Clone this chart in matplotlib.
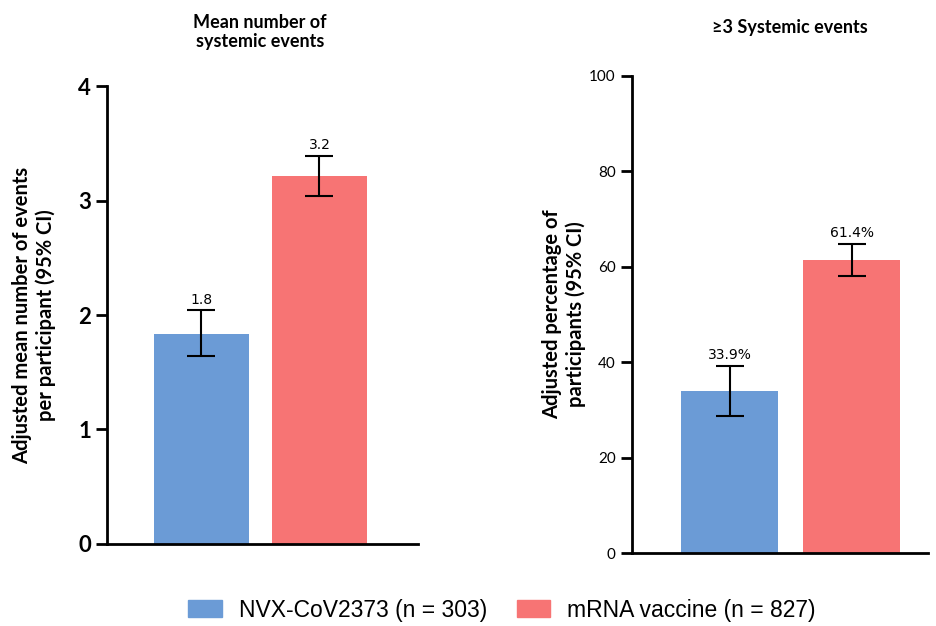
import matplotlib
matplotlib.use("Agg")
import matplotlib.pyplot as plt
from matplotlib.patches import Patch

groups = ["NVX-CoV2373 (n = 303)", "mRNA vaccine (n = 827)"]
colors = ["#6b9bd6", "#f77474"]

mean_events = [1.83, 3.21]
mean_lo = [1.64, 3.04]
mean_hi = [2.04, 3.39]
mean_labels = ["1.8", "3.2"]

pct_events = [33.9, 61.4]
pct_lo = [28.7, 58.1]
pct_hi = [39.2, 64.8]
pct_labels = ["33.9%", "61.4%"]

plt.rcParams['font.family'] = ['Lato', 'DejaVu Sans']

fig = plt.figure(figsize=(9.36, 6.26), dpi=100)
ax1 = fig.add_axes([0.1143, 0.131, 0.3323, 0.7316])
ax2 = fig.add_axes([0.675, 0.1166, 0.316, 0.762])


def draw(ax, vals, lo, hi, labels, xlim, ylim, ticks, tick_fs, tick_bold, pad):
    x = [0, 1]
    yerr = [[v - l for v, l in zip(vals, lo)], [h - v for v, h in zip(vals, hi)]]
    ax.bar(x, vals, width=0.8, color=colors, zorder=1)
    ax.errorbar(x, vals, yerr=yerr, fmt="none", ecolor="black", elinewidth=1.5,
                capsize=10, capthick=1.5, zorder=2)
    for xi, h, lab in zip(x, hi, labels):
        ax.text(xi, h + pad, lab, ha="center", va="bottom", fontsize=10,
                family=["DejaVu Sans"])
    ax.set_xlim(*xlim)
    ax.set_ylim(*ylim)
    ax.set_yticks(ticks)
    ax.set_xticks([])
    for s in ["top", "right"]:
        ax.spines[s].set_visible(False)
    for s in ["left", "bottom"]:
        ax.spines[s].set_linewidth(2)
    ax.tick_params(axis="y", length=8, width=2, labelsize=tick_fs)
    if tick_bold:
        for t in ax.get_yticklabels():
            t.set_fontweight("bold")


draw(ax1, mean_events, mean_lo, mean_hi, mean_labels, (-0.80, 1.835), (0, 4),
     [0, 1, 2, 3, 4], 16, True, 0.03)
draw(ax2, pct_events, pct_lo, pct_hi, pct_labels, (-0.803, 1.623), (0, 100),
     [0, 20, 40, 60, 80, 100], 11, False, 0.8)

ax1.set_ylabel("Adjusted mean number of events\nper participant (95% CI)",
               fontsize=14.5, fontweight="bold", labelpad=16)
ax2.set_ylabel("Adjusted percentage of\nparticipants (95% CI)",
               fontsize=14.5, fontweight="bold", labelpad=2)

fig.text(260 / 936, 1 - 32 / 626, "Mean number of\nsystemic events", ha="center",
         va="center", fontsize=13, fontweight="bold")
fig.text(790 / 936, 1 - 28 / 626, "≥3 Systemic events", ha="center",
         va="center", fontsize=13, fontweight="bold")

handles = [Patch(color=c, label=g) for c, g in zip(colors, groups)]
fig.legend(handles=handles, loc="center", bbox_to_anchor=(502 / 936, 1 - 610 / 626),
           ncol=2, frameon=False, handlelength=1.45, handleheight=0.75,
           handletextpad=0.75, columnspacing=1.3,
           prop={"family": "Liberation Sans", "size": 16.5})

fig.savefig("out.png", dpi=100)
